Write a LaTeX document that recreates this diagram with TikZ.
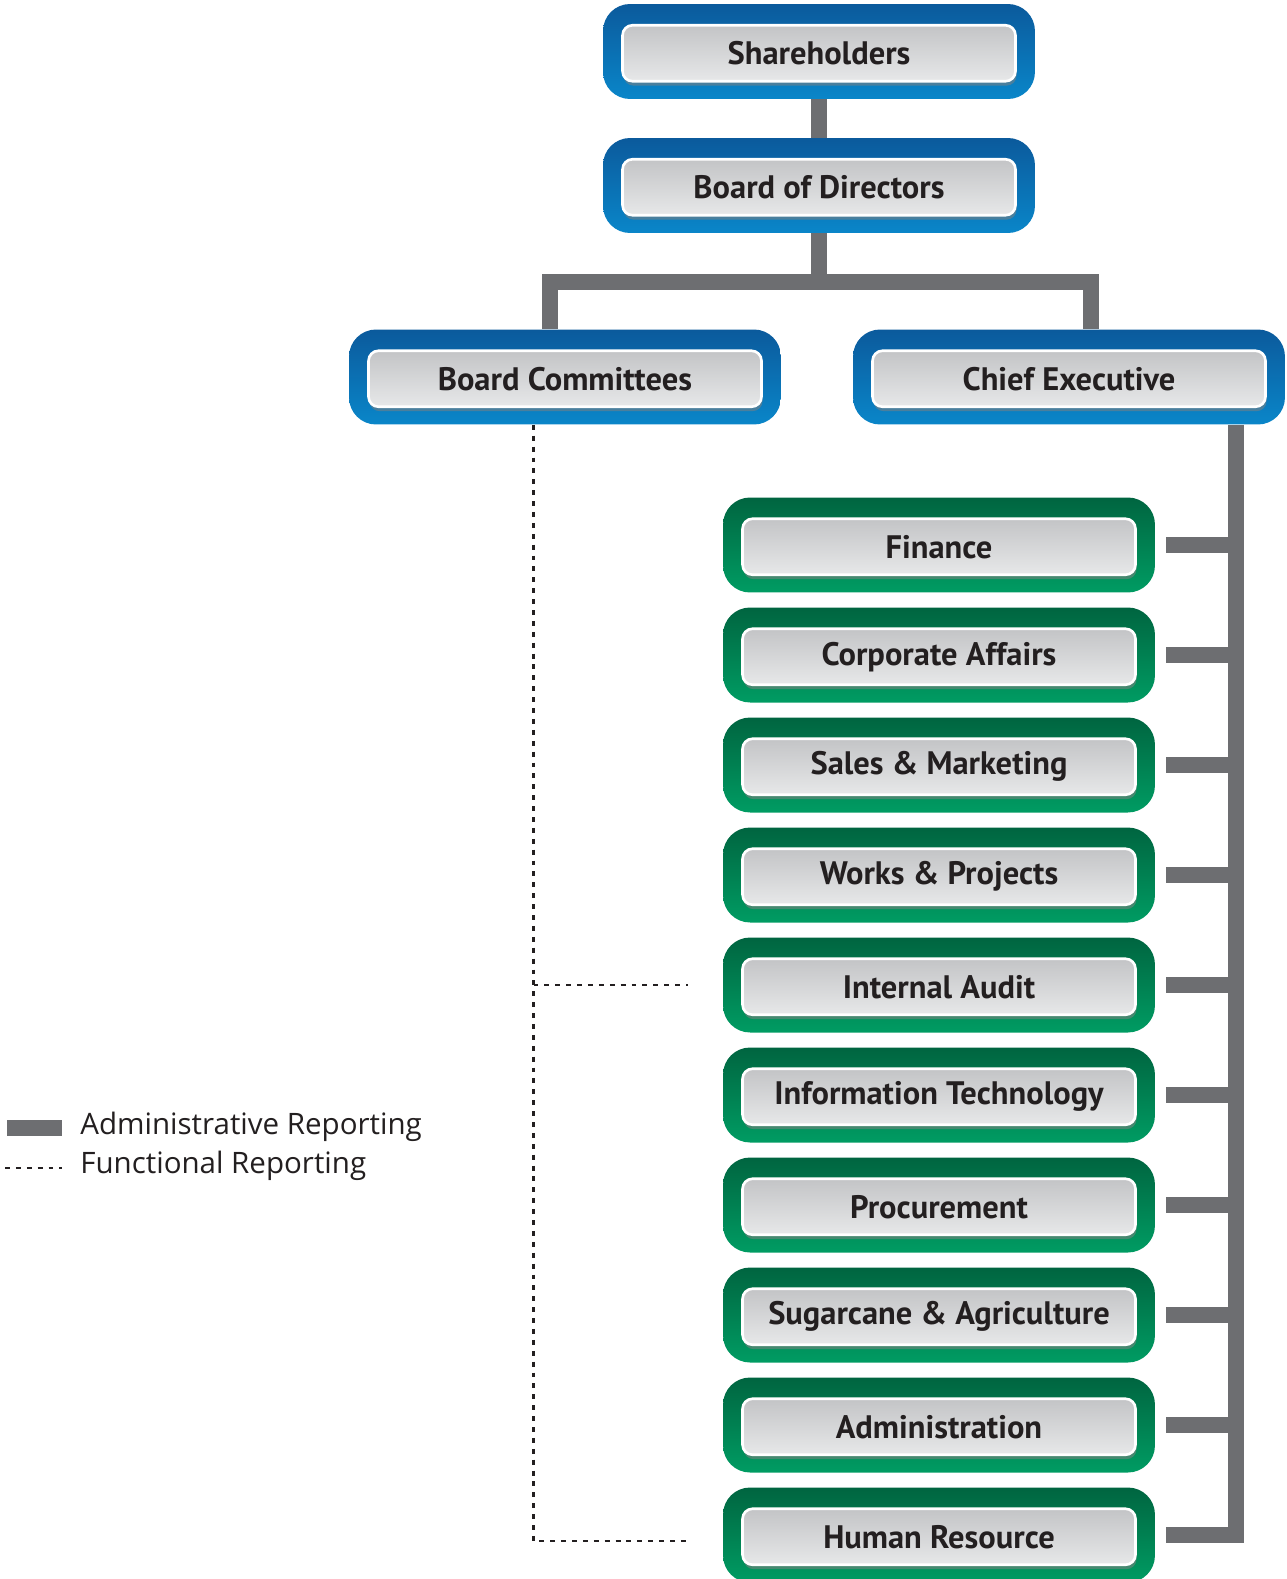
\documentclass[tikz,border=0pt]{standalone}
\usepackage{fontspec}
\setmainfont{PT Sans}
\newfontfamily\legendfont{Open Sans}
\usetikzlibrary{calc}
\usetikzlibrary{shadows}
\definecolor{bluetop}{HTML}{0B5A9C}
\definecolor{bluebot}{HTML}{0A86C9}
\definecolor{greentop}{HTML}{006540}
\definecolor{greenbot}{HTML}{009C63}
\definecolor{linegray}{HTML}{6D6E71}
\definecolor{innertop}{HTML}{C3C4C6}
\definecolor{innerbot}{HTML}{E7E8E9}
\definecolor{inktext}{HTML}{231F20}
\tikzset{
  outerbox/.style={rounded corners=0.54cm, minimum width=8.64cm, minimum height=1.9cm, inner sep=0pt},
  bluebox/.style={outerbox, top color=bluetop, bottom color=bluebot},
  greenbox/.style={outerbox, top color=greentop, bottom color=greenbot},
  innerbox/.style={rounded corners=0.2cm, minimum width=7.86cm, minimum height=1.12cm, inner sep=0pt,
    draw=white, line width=1.5pt, top color=innertop, bottom color=innerbot,
    drop shadow={shadow xshift=0.6pt, shadow yshift=-2.5pt, opacity=0.55},
    text=inktext, font=\fontsize{18.5}{22}\selectfont\bfseries},
  admin/.style={draw=linegray, line width=0.32cm},
  func/.style={draw=inktext, line width=1.5pt, dash pattern=on 2.8pt off 3.4pt}
}
\begin{document}
\begin{tikzpicture}[x=0.02cm, y=-0.02cm]
  \useasboundingbox (0,0) rectangle (1286,1579);

  \node[bluebox] (sh) at (819,51.5) {};
  \node[innerbox] (sh-in) at ([yshift=-1pt]sh) {Shareholders};
  \node[bluebox] (bod) at (819,185.5) {};
  \node[innerbox] (bod-in) at ([yshift=-1pt]bod) {Board of Directors};
  \node[bluebox] (bc) at (565,377) {};
  \node[innerbox] (bc-in) at ([yshift=-1pt]bc) {Board Committees};
  \node[bluebox] (ce) at (1069,377) {};
  \node[innerbox] (ce-in) at ([yshift=-1pt]ce) {Chief Executive};

  \foreach \nm/\txt [count=\i] in {fin/Finance, ca/Corporate Affairs, sm/Sales \& Marketing,
      wp/Works \& Projects, ia/Internal Audit, it/Information Technology, pr/Procurement,
      sa/Sugarcane \& Agriculture, adm/Administration, hr/Human Resource} {
    \node[greenbox] (\nm) at (939,{545+110*(\i-1)}) {};
    \node[innerbox] (\nm-in) at ([yshift=-1pt]\nm) {\txt};
  }

  \draw[admin] (sh.south) -- (bod.north);
  \draw[admin] (bod.south) -- ++(0,49) coordinate (fork);
  \draw[admin] ($(bc.north)+(-15.5,0)$) |- (fork) -| ($(ce.north)+(22,0)$);

  \path (ce.south) ++(166.5,0) coordinate (trunk);
  \foreach \nm in {fin, ca, sm, wp, ia, it, pr, sa, adm}
    \draw[admin] ([xshift=0.22cm]\nm.east) -- (\nm.east -| trunk);
  \draw[admin] (trunk) |- ([xshift=0.22cm]hr.east);

  \path (bc.south) ++(-31.5,0) coordinate (dots);
  \draw[func] (dots) |- ([xshift=-0.7cm, yshift=-0.12cm]hr.west);
  \draw[func] (ia.west -| dots) -- ([xshift=-0.7cm]ia.west);

  \begin{scope}[font=\legendfont\fontsize{16.8}{20}\selectfont, text=inktext]
    \draw[admin] (7,1128) -- (62,1128);
    \node[anchor=base west, inner sep=0pt] (admtxt) at (80,1134) {Administrative Reporting};
    \draw[func] (5,1168) -- (62,1168);
    \node[anchor=base west, inner sep=0pt] (functxt) at (80,1173) {Functional Reporting};
  \end{scope}
\end{tikzpicture}
\end{document}
